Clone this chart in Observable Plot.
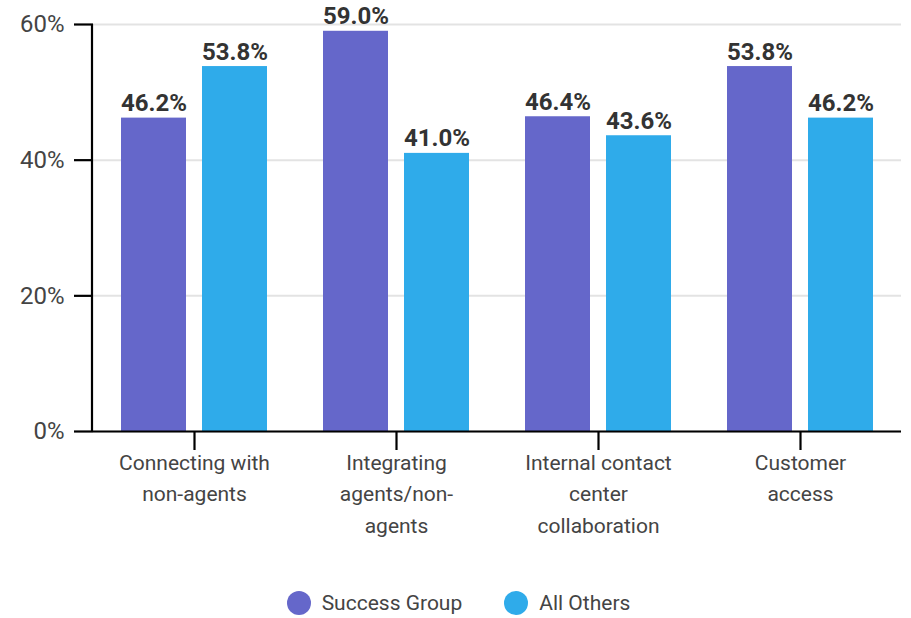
<!DOCTYPE html>
<html><head><meta charset="utf-8">
<script src="https://cdn.jsdelivr.net/npm/d3@7"></script>
<script src="https://cdn.jsdelivr.net/npm/@observablehq/plot@0.6"></script>
<style>
body{margin:0;background:#fff;font-family:Roboto,sans-serif;}
#legend{display:flex;justify-content:center;align-items:center;margin-top:21px;height:24px;font-size:21px;color:#444;padding-left:6px;}
.item{display:flex;align-items:center;}
.item + .item{margin-left:42px;}
.dot{width:24px;height:24px;border-radius:50%;margin-right:11px;}
</style></head><body><div id="chart"></div><script>
const categories = ["Connecting with non-agents","Integrating agents/non-agents","Internal contact center collaboration","Customer access"];
const categoryLabels = ["Connecting with\nnon-agents","Integrating\nagents/non-\nagents","Internal contact\ncenter\ncollaboration","Customer\naccess"];
const series = ["Success Group","All Others"];
const successGroup = [46.2,59.0,46.4,53.8];
const allOthers = [53.8,41.0,43.6,46.2];
const colors = ["#6567CA","#2FABEA"];
const yTicks = [0,20,40,60];

const data = categories.flatMap((c,i)=>[
  {category:c, series:series[0], value:successGroup[i]},
  {category:c, series:series[1], value:allOthers[i]}
]);
const labelOf = new Map(categories.map((c,i)=>[c,categoryLabels[i]]));

const plot = Plot.plot({
  width: 911, height: 570,
  marginLeft: 92, marginRight: 9, marginTop: 24, marginBottom: 139,
  style: {fontFamily: "Roboto, sans-serif", background: "#fff"},
  fx: {domain: categories, padding: 0, axis: null},
  x: {domain: series, paddingInner: 0.195, paddingOuter: 0.33, axis: null},
  y: {domain: [0,60], axis: null},
  color: {domain: series, range: colors},
  marks: [
    Plot.gridY(yTicks, {stroke: "#e3e3e3", strokeOpacity: 1, strokeWidth: 2}),
    Plot.axisY({ticks: yTicks, label: null, tickFormat: d => d + "%", tickSize: 19, tickPadding: 10, fontSize: 24, color: "#444", stroke:"#000", strokeWidth: 2.2, strokeOpacity:1}),
    Plot.barY(data, {fx: "category", x: "series", y: "value", fill: "series"}),
    Plot.text(data, {fx: "category", x: "series", y: "value", text: d => d.value.toFixed(1) + "%", dy: -7, lineAnchor: "bottom", fontSize: 24, fontWeight: "bold", fill: "#333"}),
    Plot.ruleY([0], {stroke: "#000", strokeWidth: 2}),
    Plot.axisFx({anchor: "bottom", label: null, tickFormat: d => labelOf.get(d), tickSize: 19, tickPadding: -3, fontSize: 21, lineHeight: 1.5, color: "#444", stroke: "#000", strokeWidth: 2.2, strokeOpacity: 1})
  ]
});

// left axis line drawn through Plot's y scale
const y = plot.scale("y");
d3.select(plot).append("line")
  .attr("x1", 92).attr("x2", 92)
  .attr("y1", y.apply(0) + 1).attr("y2", y.apply(60))
  .attr("stroke", "#000").attr("stroke-width", 2.2);

const chart = document.getElementById("chart");
chart.appendChild(plot);
const legend = document.createElement("div");
legend.id = "legend";
series.forEach((s,i)=>{
  const it = document.createElement("div"); it.className = "item";
  const dot = document.createElement("span"); dot.className = "dot"; dot.style.background = colors[i];
  const t = document.createElement("span"); t.textContent = s;
  it.appendChild(dot); it.appendChild(t); legend.appendChild(it);
});
chart.appendChild(legend);
</script></body></html>
